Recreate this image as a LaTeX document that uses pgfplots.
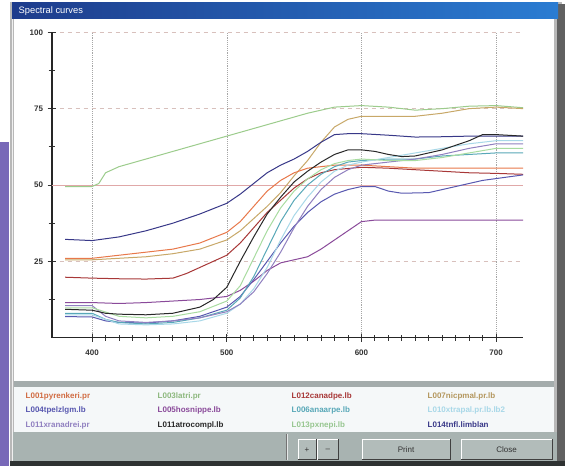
\documentclass[border=0pt]{standalone}
\usepackage{fontspec}
\setmainfont{Liberation Sans}
\usepackage{pgfplots}
\pgfplotsset{compat=1.18}

\definecolor{cDesk}{HTML}{7868B8}
\definecolor{cTitleL}{HTML}{1E3C8C}
\definecolor{cTitleR}{HTML}{2A7CD2}
\definecolor{cSep}{HTML}{A4ACAC}
\definecolor{cLeg}{HTML}{F5F8F9}
\definecolor{cBar}{HTML}{A8B3B1}
\definecolor{cBtn}{HTML}{B2BCBA}
\definecolor{cDark}{HTML}{2E3232}
\definecolor{cGridY}{HTML}{D8C0BC}
\definecolor{cFifty}{HTML}{E0A8A8}
% series colours
\definecolor{cOrange}{HTML}{E8784A}
\definecolor{cLGreen}{HTML}{9CCC8C}
\definecolor{cDRed}{HTML}{A83838}
\definecolor{cOlive}{HTML}{C8A868}
\definecolor{cBluePu}{HTML}{5858B0}
\definecolor{cPurple}{HTML}{8A4A9A}
\definecolor{cTeal}{HTML}{58A8B8}
\definecolor{cLCyan}{HTML}{A8D8E8}
\definecolor{cLav}{HTML}{9080C0}
\definecolor{cBlack}{HTML}{282828}
\definecolor{cPGreen}{HTML}{A8DCA0}
\definecolor{cDBlue}{HTML}{383888}

\newcommand\legfont{\bfseries\fontsize{6}{7}\selectfont}
\newcommand\btn[3]{%
  \fill[cBtn] (#1,439.5) rectangle (#2,460);
  \draw[white, line width=0.75pt] (#1,460) -- (#1,439.5) -- (#2,439.5);
  \draw[black!75, line width=0.75pt] (#1,460) -- (#2,460) -- (#2,439.5);
  \node[font=\fontsize{6}{7}\selectfont, text=black!80] at ({(#1+#2)/2},450) {#3};}

\begin{document}
\begin{tikzpicture}
\useasboundingbox (0,0) rectangle (423.75pt,349.5pt);
% dialog window (pixel coordinates, y downwards)
\begin{scope}[x=0.75pt,y=-0.75pt,yshift=349.5pt]
  \fill[white] (0,0) rectangle (565,466);
  \fill[cDesk] (0,142) rectangle (9,466);
  \fill[black!28] (10,2) rectangle (562,466);
  \fill[black!6] (11.5,2) rectangle (13,466);
  \fill[black!62] (557,4) rectangle (565,466);
  \shade[left color=cTitleL, right color=cTitleR] (12,3) rectangle (558,18.5);
  \node[anchor=west, text=white, font=\fontsize{7}{8}\selectfont] at (14,11) {Spectral curves};
  \fill[white] (14,19.5) rectangle (554,381);
  \fill[cSep] (14,381) rectangle (554,387);
  \fill[cLeg] (14,387) rectangle (554,432);
  \fill[cBar] (13,432) rectangle (557,461);
  \fill[cDark] (10,461) rectangle (565,466);
  \draw[black!55, line width=0.75pt] (286,434) -- (286,460);
  \draw[white!70!cBar, line width=0.75pt] (287.5,434) -- (287.5,460);
  \btn{298}{316}{+}
  \btn{317.5}{338}{--}
  \btn{362}{450}{Print}
  \btn{461}{552}{Close}
  % legend of the curves
  \node[anchor=west, text=cOrange!90!black, font=\legfont] at (21,396) {L001pyrenkeri.pr};
  \node[anchor=west, text=cLGreen!90!black, font=\legfont] at (153,396) {L003latri.pr};
  \node[anchor=west, text=cDRed, font=\legfont] at (287,396) {L012canadpe.lb};
  \node[anchor=west, text=cOlive!90!black, font=\legfont] at (423,396) {L007nicpmal.pr.lb};
  \node[anchor=west, text=cBluePu, font=\legfont] at (21,410.5) {L004tpelzlgm.lb};
  \node[anchor=west, text=cPurple, font=\legfont] at (153,410.5) {L005hosnippe.lb};
  \node[anchor=west, text=cTeal, font=\legfont] at (287,410.5) {L006anaarpe.lb};
  \node[anchor=west, text=cLCyan, font=\legfont] at (423,410.5) {L010xtrapal.pr.lb.lb2};
  \node[anchor=west, text=cLav, font=\legfont] at (21,425) {L011xranadrei.pr};
  \node[anchor=west, text=cBlack, font=\legfont] at (153,425) {L011atrocompl.lb};
  \node[anchor=west, text=cPGreen!90!black, font=\legfont] at (287,425) {L013pxnepi.lb};
  \node[anchor=west, text=cDBlue, font=\legfont] at (423,425) {L014tnfl.limblan};
\end{scope}

\begin{axis}[
    at={(38.775pt,96.225pt)}, anchor=south west,
    scale only axis, width=353.5pt, height=229.05pt,
    xmin=370, xmax=720, ymin=0, ymax=100,
    enlargelimits=false,
    axis x line=bottom, axis y line=left,
    axis line style={-, line width=1.2pt, black!85},
    xtick={400,500,600,700}, minor x tick num=9,
    ytick={25,50,75,100}, minor ytick={12.5,37.5,62.5,87.5},
    tick align=center,
    major tick length=6pt, minor tick length=4.5pt,
    every tick/.style={black!80, line width=0.7pt},
    grid=major,
    major x grid style={densely dotted, black!35},
    major y grid style={dashed, cGridY},
    /pgf/number format/assume math mode=true,
    ticklabel style={font=\bfseries\fontsize{6}{7}\selectfont, text=black!80},
    xticklabel style={yshift=-3pt},
    clip=true,
]
\draw[cFifty, line width=0.5pt] (axis cs:370,50) -- (axis cs:720,50);

% L003 light green
\addplot[cLGreen, line width=0.75pt] coordinates {
(380,49.5) (400,49.5) (405,50.5) (410,54) (420,56) (440,58.5) (460,61) (480,63.5)
(500,66) (520,68.5) (540,71) (560,73.5) (580,75.5) (600,76) (620,75.5) (640,74.5)
(660,75) (680,75.8) (700,76) (720,75.3)};
% L007 olive
\addplot[cOlive, line width=0.75pt] coordinates {
(380,25.5) (400,25.5) (420,26) (440,26.5) (460,27.5) (480,29) (500,32) (510,35)
(520,39) (530,43) (540,47.5) (550,53) (560,58) (570,64) (580,69) (590,71.5)
(600,72.5) (620,72.5) (640,72.5) (660,73.5) (680,75) (700,75.5) (720,75)};
% L001 orange
\addplot[cOrange, line width=0.75pt] coordinates {
(380,26) (400,26) (420,27) (440,28) (460,29) (480,31) (500,34.5) (510,38)
(520,43) (530,48) (540,51.5) (550,54) (560,55.5) (570,56) (580,56.5) (600,56.5)
(620,56) (640,55.5) (660,55.5) (680,55.5) (700,55.5) (720,55.5)};
% L012 dark red
\addplot[cDRed, line width=0.75pt] coordinates {
(380,19.8) (400,19.5) (420,19.3) (440,19.2) (460,19.5) (470,21) (480,23) (500,27)
(510,31) (520,36) (530,41) (540,45) (550,49) (560,52) (570,54) (580,55)
(600,55.8) (620,55.5) (640,55) (660,54.5) (680,54) (700,53.8) (720,53.5)};
% L014 dark blue
\addplot[cDBlue, line width=0.75pt] coordinates {
(380,32.2) (400,31.8) (420,33) (440,35) (460,37.5) (480,40.5) (500,44) (510,47)
(520,50.5) (530,54) (540,56.5) (550,58.5) (560,61) (570,64) (580,66.5) (590,66.8)
(600,66.8) (620,66.3) (640,65.7) (660,65.8) (680,66) (700,66) (720,66)};
% L005 purple
\addplot[cPurple, line width=0.75pt] coordinates {
(380,11.5) (400,11.5) (420,11.2) (440,11.5) (460,12) (480,12.5) (500,13.5) (510,15.5)
(520,18.5) (530,22) (540,24.5) (550,25.5) (560,26.5) (570,29) (580,32) (590,35)
(600,38) (610,38.5) (650,38.5) (720,38.5)};
% L004 blue-purple
\addplot[cBluePu, line width=0.75pt] coordinates {
(380,6.9) (400,6.8) (410,5.5) (420,5) (440,4.8) (460,5.5) (480,7) (500,10)
(510,13.5) (520,19) (530,25) (540,31) (550,36.5) (560,41) (570,44.5) (580,47)
(590,48.5) (600,49.5) (610,49.5) (620,48) (630,47.3) (650,47.5) (670,49.5) (690,51.5) (720,53.3)};
% L006 teal
\addplot[cTeal, line width=0.75pt] coordinates {
(380,8) (400,8) (410,6) (420,5) (440,4.5) (460,5) (480,6.5) (500,9)
(510,13) (520,20) (530,29) (540,38) (550,45) (560,50) (570,53.5) (580,56)
(590,57.5) (600,58) (620,58.5) (640,58.5) (660,59.5) (680,60) (700,60.5) (720,60.5)};
% L010 light cyan
\addplot[cLCyan, line width=0.75pt] coordinates {
(380,7.5) (400,7.5) (420,4.5) (440,4.2) (460,4.5) (480,5.5) (500,8) (510,11)
(520,16) (530,23) (540,32) (550,40) (560,46) (570,51) (580,54.5) (590,56.5)
(600,57.5) (620,59) (640,60.5) (660,62) (680,63.5) (700,64.5) (720,64.5)};
% L011 lavender
\addplot[cLav, line width=0.75pt] coordinates {
(380,10.5) (400,10.5) (410,7) (420,5.5) (440,5) (460,5.5) (480,6.5) (500,8.5)
(510,11) (520,15) (530,21) (540,28) (550,36) (560,43) (570,48.5) (580,52.5)
(590,55) (600,56.5) (620,57.5) (640,58.5) (660,60) (680,62) (700,63.5) (720,63.5)};
% L013 pale green
\addplot[cPGreen, line width=0.75pt] coordinates {
(380,9.8) (400,9.8) (420,7) (440,6.5) (460,7) (480,8.5) (500,12) (510,17)
(520,26) (530,35) (540,42.5) (550,48) (560,52) (570,55) (580,57) (590,58)
(600,58.5) (620,58) (640,58) (660,59) (680,60.5) (700,62) (720,62)};
% L011 black
\addplot[cBlack, line width=0.75pt] coordinates {
(380,9.3) (400,9) (410,8) (420,7.7) (440,7.5) (460,8) (480,10) (490,12.5)
(500,16.5) (510,25) (520,33) (530,40.5) (540,46) (550,51) (560,54.5) (570,57.5)
(580,60) (590,61.5) (600,61.5) (610,61) (620,60) (630,59.3) (640,59.5) (660,61.5)
(680,64.5) (690,66.5) (700,66.5) (720,66)};
\end{axis}
\end{tikzpicture}
\end{document}
